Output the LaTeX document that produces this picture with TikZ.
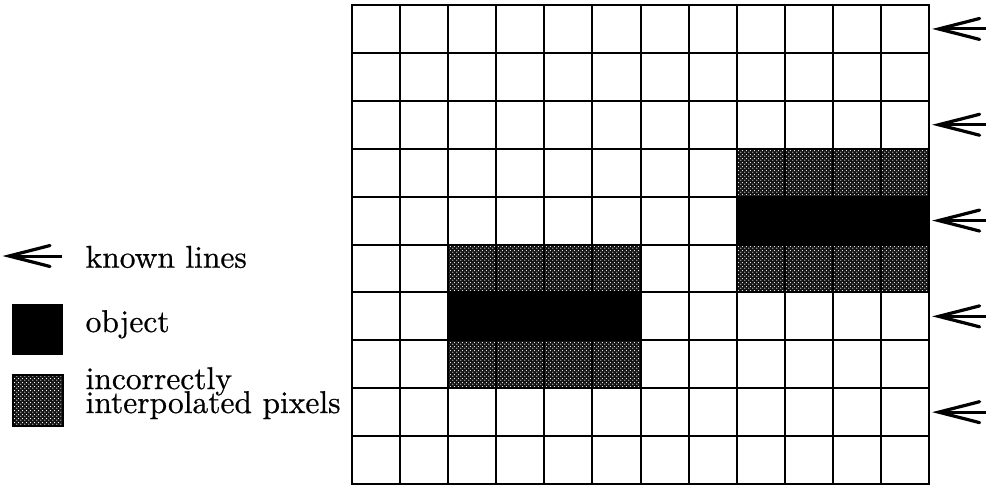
\documentclass[tikz,border=0pt]{standalone}
\usepackage{fontspec}
\newfontfamily\scanfont{lmroman10-regular.otf}[FakeBold=0.6]
\newcommand\legfontsetup{\scanfont\fontsize{10}{7.6}\selectfont\lineskiplimit -10pt\lineskip 0pt\relax}
\usetikzlibrary{patterns.meta}
\tikzdeclarepattern{
  name=wdots,
  type=uncolored,
  bottom left={(0pt,0pt)},
  top right={(4pt,4pt)},
  tile size={(4pt,4pt)},
  code={\fill (1pt,1pt) circle (0.75pt); \fill (3pt,3pt) circle (0.75pt);}
}
\tikzset{
  gridline/.style={line width=2pt, line cap=rect},
  objcell/.style={fill=black},
  badcell/.style={pattern={wdots}, pattern color=white},
  badbg/.style={fill=black!92},
  legtext/.style={anchor=base west, inner sep=0pt, scale=3.15, font=\legfontsetup},
  pics/knownarrow/.style={code={
    \draw[line width=3pt] (1pt,0pt) -- (#1,0pt);
    \draw[line width=3.2pt, line join=miter, line cap=round]
      (41pt,10.5pt) .. controls (30pt,7.6pt) and (14pt,3.6pt) .. (0pt,0pt)
      .. controls (14pt,-3.6pt) and (30pt,-7.6pt) .. (41pt,-10.5pt);
  }}
}
\begin{document}
\begin{tikzpicture}[x=1pt,y=-1pt]
\useasboundingbox[fill=white] (0,0) rectangle (986,485);
\begin{scope}[shift={(352,5)}, x=48.083pt, y=-47.9pt]
  % left object
  \fill[badbg] (2,5) rectangle (6,6);
  \fill[badcell] (2,5) rectangle (6,6);
  \fill[objcell] (2,6) rectangle (6,7);
  \fill[badbg] (2,7) rectangle (6,8);
  \fill[badcell] (2,7) rectangle (6,8);
  % right object
  \fill[badbg] (8,3) rectangle (12,4);
  \fill[badcell] (8,3) rectangle (12,4);
  \fill[objcell] (8,4) rectangle (12,5);
  \fill[badbg] (8,5) rectangle (12,6);
  \fill[badcell] (8,5) rectangle (12,6);
  % grid
  \foreach \c in {0,...,12} { \draw[gridline] (\c,0) -- (\c,10); }
  \foreach \r in {0,...,10} { \draw[gridline] (0,\r) -- (12,\r); }
  % known line markers
  \foreach \r in {0,2,4,6,8} {
    \coordinate (k\r) at (12.2,\r+0.5);
  }
\end{scope}
\foreach \r in {0,2,4,6,8} {
  \pic at (k\r) {knownarrow=47pt};
}
% legend
\coordinate (legarrow) at (9,256);
\pic at (legarrow) {knownarrow=53pt};
\node[legtext] (lknown) at (85,267.7) {known lines};
\node[draw=black, fill=black, minimum size=50pt, inner sep=0pt, anchor=north west] (lobjbox) at (12,304) {};
\node[legtext] (lobj) at (85,332) {object};
\fill[badbg] (12,374) rectangle (62,425);
\fill[badcell] (12,374) rectangle (62,425);
\node[draw=black, line width=1.5pt, minimum width=50pt, minimum height=51pt, inner sep=0pt, anchor=north west] (lbadbox) at (12,374) {};
\node[legtext, align=left] (lbad) at (85,413) {incorrectly\\interpolated pixels};
\end{tikzpicture}
\end{document}
